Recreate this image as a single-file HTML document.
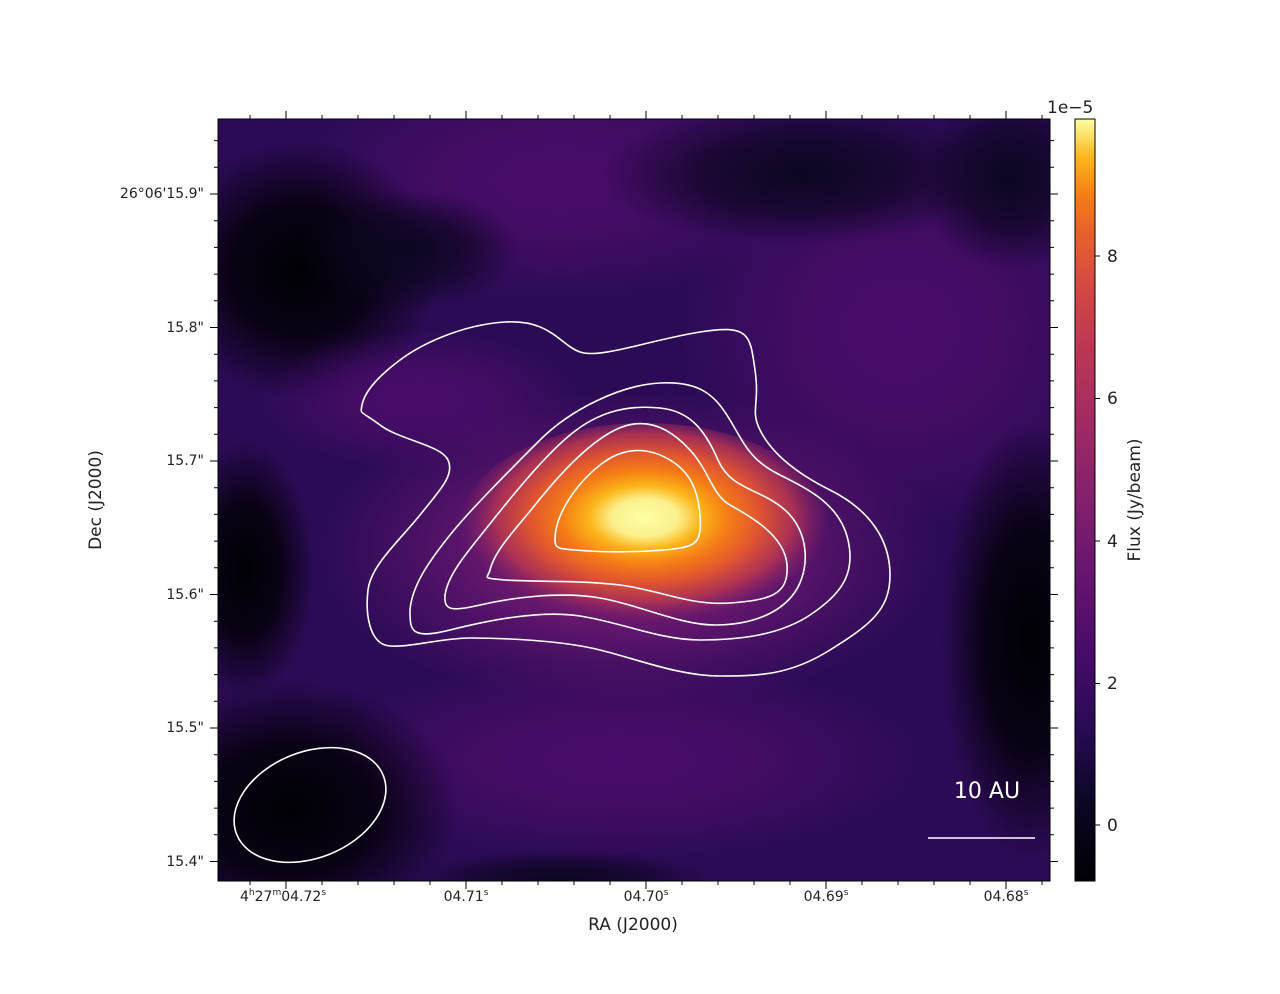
<!DOCTYPE html>
<html><head><meta charset="utf-8"><style>
body{margin:0;background:#fff;}
svg text{font-family:"DejaVu Sans","Liberation Sans",sans-serif;fill:#222;}
</style></head><body>
<svg width="1280" height="989" viewBox="0 0 1280 989" xmlns="http://www.w3.org/2000/svg">
<defs>
<radialGradient id="gBlack"><stop offset="0" stop-color="#000004"/><stop offset="0.5" stop-color="#000004" stop-opacity="0.8"/><stop offset="1" stop-color="#000004" stop-opacity="0"/></radialGradient>
<radialGradient id="gDark"><stop offset="0" stop-color="#0c0620"/><stop offset="0.5" stop-color="#0c0620" stop-opacity="0.7"/><stop offset="1" stop-color="#0c0620" stop-opacity="0"/></radialGradient>
<radialGradient id="gPurp"><stop offset="0" stop-color="#4a0c6a"/><stop offset="0.5" stop-color="#4a0c6a" stop-opacity="0.7"/><stop offset="1" stop-color="#4a0c6a" stop-opacity="0"/></radialGradient>
<radialGradient id="gMag"><stop offset="0" stop-color="#8a226a"/><stop offset="0.5" stop-color="#6a1870" stop-opacity="0.85"/><stop offset="1" stop-color="#5a1270" stop-opacity="0"/></radialGradient>
<radialGradient id="gCore" cx="0.5" cy="0.45">
<stop offset="0" stop-color="#fcffa4"/><stop offset="0.18" stop-color="#fbf08c"/><stop offset="0.3" stop-color="#fbb61a"/><stop offset="0.45" stop-color="#f57d15"/><stop offset="0.62" stop-color="#e05530"/><stop offset="0.8" stop-color="#b8364f" stop-opacity="0.85"/><stop offset="1" stop-color="#8a226a" stop-opacity="0"/></radialGradient>
<clipPath id="cp"><rect x="218" y="119" width="832" height="762"/></clipPath>
<linearGradient id="cb" x1="0" y1="1" x2="0" y2="0">
<stop offset="0" stop-color="#000004"/><stop offset="0.1" stop-color="#0a0722"/>
<stop offset="0.2" stop-color="#280b54"/><stop offset="0.3" stop-color="#480b6a"/>
<stop offset="0.4" stop-color="#65156e"/><stop offset="0.5" stop-color="#82206c"/>
<stop offset="0.6" stop-color="#a02a63"/><stop offset="0.7" stop-color="#bc3754"/>
<stop offset="0.78" stop-color="#d44842"/><stop offset="0.85" stop-color="#e8602e"/>
<stop offset="0.9" stop-color="#f57d15"/><stop offset="0.95" stop-color="#fbb61a"/>
<stop offset="1" stop-color="#fcffa4"/></linearGradient>
</defs>
<g clip-path="url(#cp)">
<rect x="218" y="119" width="832" height="762" fill="#2c0b56"/>
<ellipse cx="560" cy="180" rx="260" ry="120" fill="url(#gPurp)"/>
<ellipse cx="900" cy="330" rx="220" ry="200" fill="url(#gPurp)"/>
<ellipse cx="620" cy="760" rx="300" ry="100" fill="url(#gPurp)"/>
<ellipse cx="800" cy="175" rx="200" ry="70" fill="url(#gDark)"/>
<ellipse cx="1010" cy="180" rx="90" ry="90" fill="url(#gDark)"/>
<ellipse cx="300" cy="270" rx="140" ry="130" fill="url(#gBlack)"/>
<ellipse cx="410" cy="250" rx="110" ry="60" fill="url(#gDark)"/>
<ellipse cx="245" cy="570" rx="70" ry="130" fill="url(#gBlack)"/>
<ellipse cx="290" cy="810" rx="170" ry="130" fill="url(#gBlack)"/>
<ellipse cx="1030" cy="640" rx="90" ry="220" fill="url(#gBlack)"/>
<ellipse cx="560" cy="880" rx="150" ry="30" fill="url(#gDark)"/>
<ellipse cx="420" cy="400" rx="160" ry="70" fill="url(#gPurp)"/>
<ellipse cx="630" cy="550" rx="310" ry="160" fill="url(#gMag)"/>
<ellipse cx="645" cy="528" rx="185" ry="105" fill="url(#gCore)"/>
</g>
<g fill="none" stroke="#fff" stroke-width="1.6" stroke-linejoin="round">
<path d="M362,405 C365,390 380,375 400,360 S460,325 505,322 S560,345 580,352 S650,340 700,332 S750,335 755,370 S750,410 760,430 S790,470 830,490 S890,540 890,575 S870,625 830,650 S760,676 720,676 S640,660 600,650 S500,638 470,638 S400,650 385,645 S365,615 368,590 S400,540 420,515 S455,475 448,460 S400,440 380,425 S360,415 362,405Z"/>
<path d="M410,610 C412,585 430,560 450,535 S510,470 540,440 S620,385 660,383 S715,395 730,420 S750,460 780,475 S840,505 848,540 S840,595 810,615 S740,640 700,640 S620,622 580,616 S490,620 450,630 S410,630 410,610Z"/>
<path d="M445,595 C448,575 465,555 485,530 S540,460 570,435 S630,405 660,408 S705,430 718,460 S760,488 785,510 S810,570 795,592 S750,625 715,625 S640,605 600,598 S510,598 480,605 S444,610 445,595Z"/>
<path d="M490,570 C495,550 515,530 535,505 S585,445 615,430 S670,428 690,450 S712,495 730,505 S785,535 787,565 S770,600 730,603 S660,590 620,585 S530,582 505,580 S488,578 490,570Z"/>
<path d="M555,540 C555,515 575,485 600,465 S650,448 670,460 S698,490 700,515 S697,545 680,548 S620,553 590,551 S555,550 555,540Z"/>
<ellipse cx="310" cy="805" rx="79" ry="53" transform="rotate(-22 310 805)"/>
<line x1="928" y1="838" x2="1035" y2="838"/>
</g>
<text x="987" y="798" font-size="22" text-anchor="middle" style="fill:#fff">10 AU</text>
<rect x="218" y="119" width="832" height="762" fill="none" stroke="#000" stroke-width="1"/>
<g stroke="#000" stroke-width="1">
<path d="M286,119v-8M466,119v-8M646,119v-8M826,119v-8M1006,119v-8M286,881v8M466,881v8M646,881v8M826,881v8M1006,881v8"/>
<path d="M250,119v-4M322,119v-4M358,119v-4M394,119v-4M430,119v-4M502,119v-4M538,119v-4M574,119v-4M610,119v-4M682,119v-4M718,119v-4M754,119v-4M790,119v-4M862,119v-4M898,119v-4M934,119v-4M970,119v-4M1042,119v-4
M250,881v4M322,881v4M358,881v4M394,881v4M430,881v4M502,881v4M538,881v4M574,881v4M610,881v4M682,881v4M718,881v4M754,881v4M790,881v4M862,881v4M898,881v4M934,881v4M970,881v4M1042,881v4"/>
<path d="M218,194h-8M218,327.5h-8M218,461h-8M218,594.5h-8M218,728h-8M218,861.5h-8M1050,194h8M1050,327.5h8M1050,461h8M1050,594.5h8M1050,728h8M1050,861.5h8"/>
<path d="M218,140.6h-4M218,167.3h-4M218,220.7h-4M218,247.4h-4M218,274.1h-4M218,300.8h-4M218,354.2h-4M218,380.9h-4M218,407.6h-4M218,434.3h-4M218,487.7h-4M218,514.4h-4M218,541.1h-4M218,567.8h-4M218,621.2h-4M218,647.9h-4M218,674.6h-4M218,701.3h-4M218,754.7h-4M218,781.4h-4M218,808.1h-4M218,834.8h-4
M1050,140.6h4M1050,167.3h4M1050,220.7h4M1050,247.4h4M1050,274.1h4M1050,300.8h4M1050,354.2h4M1050,380.9h4M1050,407.6h4M1050,434.3h4M1050,487.7h4M1050,514.4h4M1050,541.1h4M1050,567.8h4M1050,621.2h4M1050,647.9h4M1050,674.6h4M1050,701.3h4M1050,754.7h4M1050,781.4h4M1050,808.1h4M1050,834.8h4"/>
</g>
<g font-size="14" text-anchor="end">
<text x="204" y="198">26°06'15.9"</text>
<text x="204" y="332">15.8"</text>
<text x="204" y="465">15.7"</text>
<text x="204" y="599">15.6"</text>
<text x="204" y="732">15.5"</text>
<text x="204" y="866">15.4"</text>
</g>
<g font-size="14" text-anchor="middle">
<text x="283" y="901">4<tspan font-size="9" dy="-6">h</tspan><tspan dy="6">27</tspan><tspan font-size="9" dy="-6">m</tspan><tspan dy="6">04.72</tspan><tspan font-size="9" dy="-6">s</tspan></text>
<text x="466" y="901">04.71<tspan font-size="9" dy="-6">s</tspan></text>
<text x="646" y="901">04.70<tspan font-size="9" dy="-6">s</tspan></text>
<text x="826" y="901">04.69<tspan font-size="9" dy="-6">s</tspan></text>
<text x="1006" y="901">04.68<tspan font-size="9" dy="-6">s</tspan></text>
</g>
<text x="633" y="930" font-size="17" text-anchor="middle">RA (J2000)</text>
<text transform="translate(101,500) rotate(-90)" font-size="17" text-anchor="middle">Dec (J2000)</text>
<rect x="1075" y="119" width="20" height="762" fill="url(#cb)" stroke="#000" stroke-width="1"/>
<g stroke="#000"><path d="M1095,825h5M1095,683.5h5M1095,541h5M1095,398.5h5M1095,256h5"/></g>
<g font-size="17">
<text x="1107" y="831">0</text><text x="1107" y="689">2</text><text x="1107" y="547">4</text><text x="1107" y="404">6</text><text x="1107" y="262">8</text>
</g>
<text x="1047" y="113" font-size="17">1e−5</text>
<text transform="translate(1140,500) rotate(-90)" font-size="17" text-anchor="middle">Flux (Jy/beam)</text>
</svg>
</body></html>
